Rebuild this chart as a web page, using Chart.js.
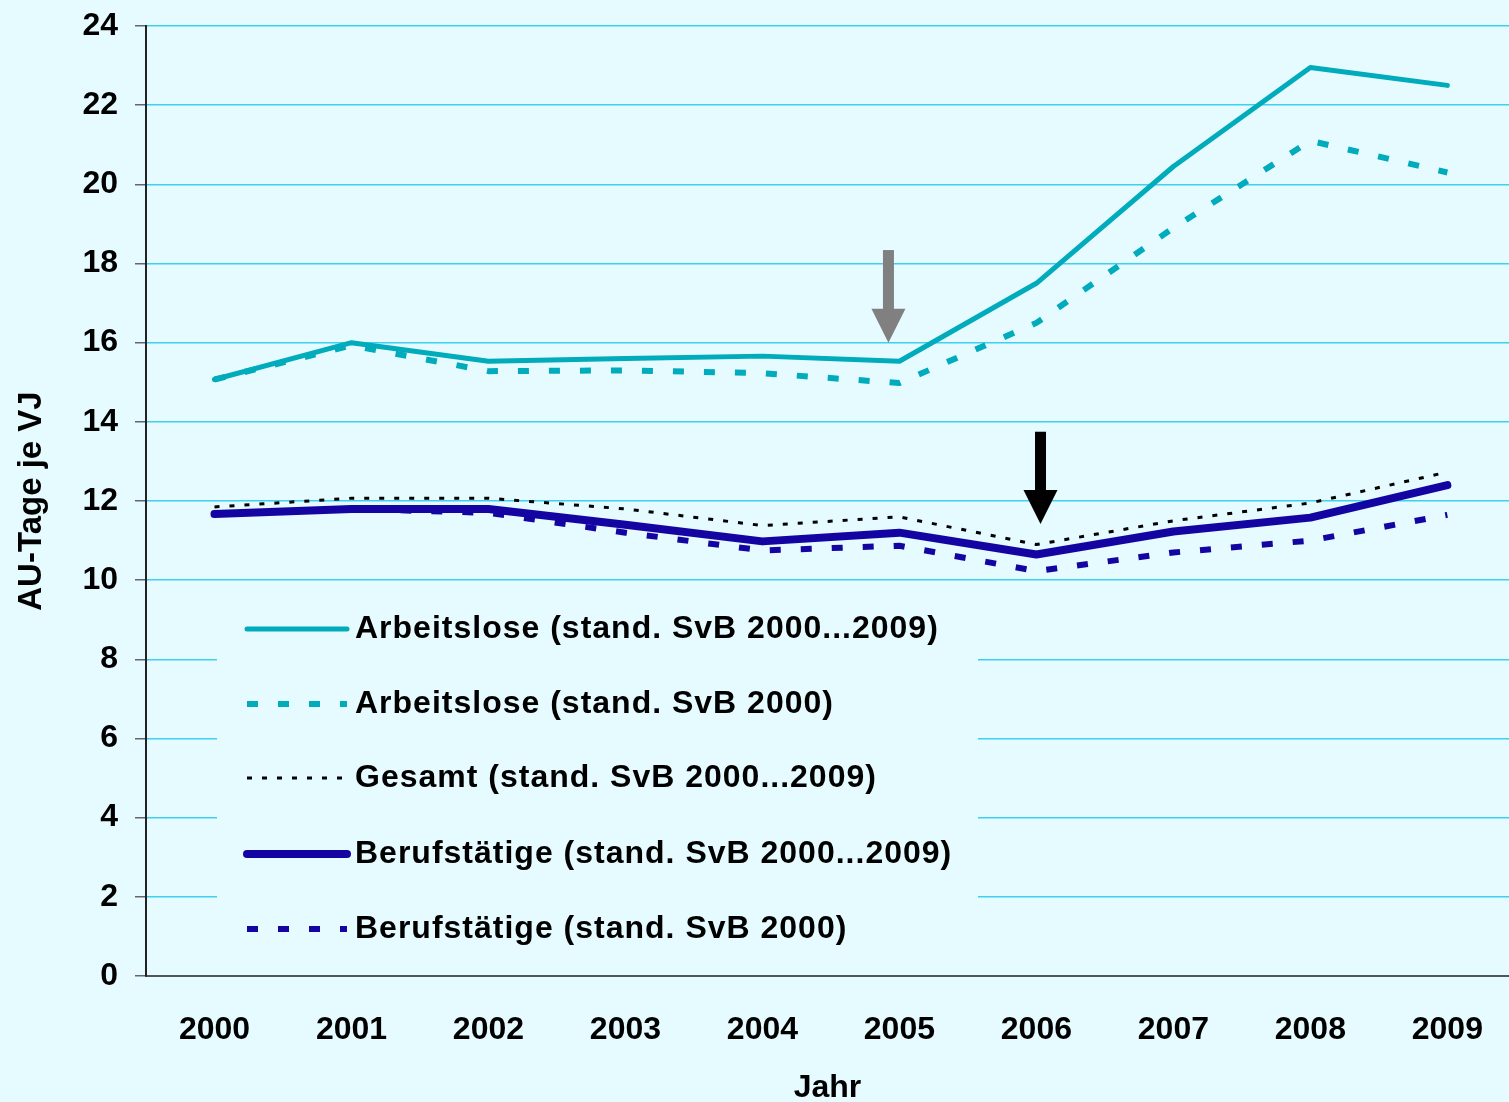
<!DOCTYPE html>
<html lang="de">
<head>
<meta charset="utf-8">
<title>AU-Tage je VJ</title>
<script src="https://cdn.jsdelivr.net/npm/chart.js@4.4.1/dist/chart.umd.min.js"></script>
<style>
  html, body { margin: 0; padding: 0; background: #e6fbff; overflow: hidden; }
  #wrap { width: 1509px; height: 1102px; }
</style>
</head>
<body>
<div id="wrap"><canvas id="chart" width="1509" height="1102"></canvas></div>
<script>
/* --- DATA --- */
const YEARS = [2000, 2001, 2002, 2003, 2004, 2005, 2006, 2007, 2008, 2009];
const Y_TICKS = [0, 2, 4, 6, 8, 10, 12, 14, 16, 18, 20, 22, 24];

const ARB_VAR   = [15.07, 16.0, 15.53, 15.6, 15.66, 15.53, 17.5, 20.45, 22.95, 22.5];
const ARB_2000  = [15.07, 15.93, 15.28, 15.3, 15.23, 14.98, 16.5, 18.9, 21.1, 20.3];
const GESAMT    = [11.85, 12.07, 12.07, 11.8, 11.38, 11.6, 10.9, 11.5, 11.95, 12.73];
const BERUF_VAR = [11.67, 11.8, 11.8, 11.4, 10.98, 11.2, 10.65, 11.23, 11.58, 12.4];
const BERUF_2000 = [11.67, 11.8, 11.7, 11.2, 10.75, 10.87, 10.23, 10.7, 11.0, 11.65];

const LABELS = [
  'Arbeitslose (stand. SvB 2000...2009)',
  'Arbeitslose (stand. SvB 2000)',
  'Gesamt (stand. SvB 2000...2009)',
  'Berufstätige (stand. SvB 2000...2009)',
  'Berufstätige (stand. SvB 2000)'
];

// annotation arrows (x in years, y in AU-Tage)
const ARROWS = [
  { x: 2004.92, top: 18.34, tip: 16.0, color: '#808080' },
  { x: 2006.03, top: 13.75, tip: 11.42, color: '#000000' }
];

const CYAN = '#00abbb';
const BLUE = '#1405a3';
const FONT = "'Liberation Sans', Arial, sans-serif";

const toPts = vals => YEARS.map((y, i) => ({ x: y, y: vals[i] }));

const SERIES = [
  { data: ARB_VAR, color: CYAN, width: 5, dash: [], cap: 'round' },
  { data: ARB_2000, color: CYAN, width: 6, dash: [11, 20], cap: 'butt' },
  { data: GESAMT, color: '#000000', width: 3, dash: [5, 10], cap: 'butt' },
  { data: BERUF_VAR, color: BLUE, width: 8, dash: [], cap: 'round' },
  { data: BERUF_2000, color: BLUE, width: 6, dash: [11, 20], cap: 'butt' }
];

/* --- PLUGINS --- */
const legendBox = {
  id: 'legendBox',
  beforeDatasetsDraw(chart) {
    const ctx = chart.ctx;
    ctx.save();
    ctx.fillStyle = '#e6fbff';
    ctx.fillRect(217, 596, 761, 362);
    ctx.restore();
  },
  afterDatasetsDraw(chart) {
    const ctx = chart.ctx;
    const rows = [629, 704, 778, 854, 929];
    ctx.save();
    SERIES.forEach((s, i) => {
      const y = rows[i];
      ctx.beginPath();
      ctx.strokeStyle = s.color;
      ctx.lineWidth = s.width;
      ctx.lineCap = s.cap;
      ctx.setLineDash(s.dash);
      ctx.moveTo(247, y);
      ctx.lineTo(347, y);
      ctx.stroke();
      ctx.setLineDash([]);
      ctx.fillStyle = '#000';
      ctx.font = 'bold 32px ' + FONT;
      ctx.letterSpacing = '1px';
      ctx.textBaseline = 'middle';
      ctx.textAlign = 'left';
      ctx.fillText(LABELS[i], 355, y);
    });
    ctx.restore();

    // arrows
    const xs = chart.scales.x, ys = chart.scales.y;
    ARROWS.forEach(a => {
      const cx = xs.getPixelForValue(a.x);
      const top = ys.getPixelForValue(a.top);
      const tip = ys.getPixelForValue(a.tip);
      const headH = 34, headW = 34, shaftW = 11;
      ctx.save();
      ctx.fillStyle = a.color;
      ctx.fillRect(cx - shaftW / 2, top, shaftW, tip - top - headH + 1);
      ctx.beginPath();
      ctx.moveTo(cx - headW / 2, tip - headH);
      ctx.lineTo(cx + headW / 2, tip - headH);
      ctx.lineTo(cx, tip);
      ctx.closePath();
      ctx.fill();
      ctx.restore();
    });
  }
};

/* --- CHART --- */
new Chart(document.getElementById('chart'), {
  type: 'line',
  data: {
    datasets: SERIES.map((s, i) => ({
      label: LABELS[i],
      data: toPts(s.data),
      borderColor: s.color,
      borderWidth: s.width,
      borderDash: s.dash,
      borderCapStyle: s.cap,
      borderJoinStyle: 'round',
      pointRadius: 0,
      tension: 0,
      fill: false
    }))
  },
  options: {
    responsive: false,
    animation: false,
    layout: { padding: { top: 26, right: -4, left: 0, bottom: 0 } },
    plugins: { legend: { display: false }, tooltip: { enabled: false } },
    scales: {
      x: {
        type: 'linear',
        min: 1999.5,
        max: 2009.45,
        afterFit: s => { s.height = 126; s.paddingLeft = 0; s.paddingRight = 0; },
        afterBuildTicks: s => { s.ticks = YEARS.map(v => ({ value: v })); },
        grid: { display: false },
        border: { display: true, color: '#555555', width: 2 },
        ticks: {
          padding: 27,
          color: '#000',
          font: { family: FONT, size: 32, weight: 'bold' },
          callback: v => String(v),
          maxRotation: 0,
          autoSkip: false
        },
        title: {
          display: true,
          text: 'Jahr',
          color: '#000',
          font: { family: FONT, size: 32, weight: 'bold' },
          padding: { top: 0, bottom: -5 }
        }
      },
      y: {
        min: 0,
        max: 24,
        afterFit: s => { s.width = 146; s.paddingTop = 0; s.paddingBottom = 0; },
        afterBuildTicks: s => { s.ticks = Y_TICKS.map(v => ({ value: v })); },
        grid: { color: '#3fd0f0', lineWidth: 1.5, tickColor: '#666666', tickLength: 11 },
        border: { display: true, color: '#222222', width: 2 },
        ticks: {
          padding: 17,
          color: '#000',
          font: { family: FONT, size: 32, weight: 'bold' }
        },
        title: {
          display: true,
          text: 'AU-Tage je VJ',
          color: '#000',
          font: { family: FONT, size: 33, weight: 'bold' },
          padding: { top: 12, bottom: 0 }
        }
      }
    }
  },
  plugins: [legendBox]
});
</script>
</body>
</html>
